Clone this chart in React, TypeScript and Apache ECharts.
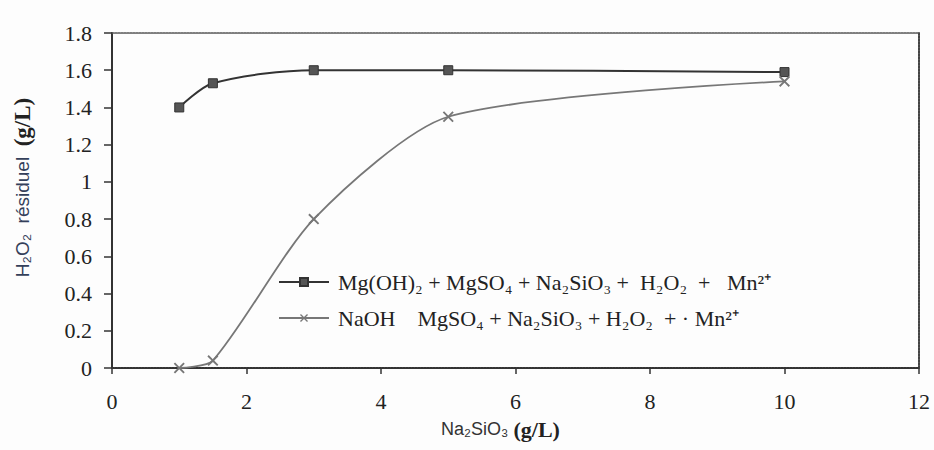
import React, { useEffect, useRef } from "react";
import * as echarts from "echarts";

const xTicks = [0, 2, 4, 6, 8, 10, 12];
const mgX = [1, 1.5, 3, 5, 10];
const mgY = [1.4, 1.53, 1.6, 1.6, 1.59];
const naX = [1, 1.5, 3, 5, 10];
const naY = [0.0, 0.04, 0.8, 1.35, 1.54];
const mgName = "Mg(OH)₂ + MgSO₄ + Na₂SiO₃ +  H₂O₂  +   Mn²⁺";
const naName = "NaOH    MgSO₄ + Na₂SiO₃ + H₂O₂  + · Mn²⁺";

const crossPath =
  "path://M0,1.2L1.2,0L5,3.8L8.8,0L10,1.2L6.2,5L10,8.8L8.8,10L5,6.2L1.2,10L0,8.8L3.8,5Z";

export default function App() {
  const ref = useRef<HTMLDivElement>(null);
  useEffect(() => {
    document.body.style.margin = "0";
    const chart = echarts.init(ref.current!, null, { renderer: "svg" });
    const serif = "Liberation Serif";
    const sans = "Liberation Sans";
    const numRich = { n: { fontFamily: serif, fontSize: 22, color: "#222" } };
    chart.setOption({
      animation: false,
      backgroundColor: "#fdfdfd",
      textStyle: { fontFamily: serif },
      grid: { left: 112, right: 15, top: 33, bottom: 82, show: false, outerBoundsMode: "none", containLabel: false },
      legend: {
        orient: "vertical",
        left: 273,
        top: 266,
        itemWidth: 50,
        itemHeight: 10,
        itemGap: 14,
        textStyle: { fontFamily: serif, fontSize: 22, color: "#222", padding: [0, 0, 0, 4] },
        data: [mgName, naName],
      },
      xAxis: [
        {
          type: "value",
          min: 0,
          max: 12,
          interval: 2,
          axisLine: { show: true, onZero: false, lineStyle: { color: "#333", width: 2, type: [2, 1] } },
          axisTick: { show: true, inside: false, length: 6, lineStyle: { color: "#333", width: 1.5 } },
          axisLabel: {
            fontFamily: serif,
            fontSize: 22,
            color: "#222",
            margin: 22,
            rich: numRich,
            formatter: (v: number) => (xTicks.includes(v) ? "{n|" + v + "}" : ""),
          },
          splitLine: { show: false },
          name: "{s|Na₂SiO₃ }{b|(g/L)}",
          nameLocation: "middle",
          nameGap: 50,
          nameTextStyle: {
            padding: [0, 30, 0, 0],
            rich: {
              s: { fontFamily: sans, fontSize: 18, color: "#333" },
              b: { fontFamily: serif, fontSize: 22, fontWeight: "bold", color: "#222" },
            },
          },
        },
        {
          type: "value",
          position: "top",
          min: 0,
          max: 12,
          axisLine: { show: true, onZero: false, lineStyle: { color: "#555", width: 1.5, type: [2, 1] } },
          axisTick: { show: false },
          axisLabel: { show: false },
          splitLine: { show: false },
        },
      ],
      yAxis: [
        {
          type: "value",
          min: 0,
          max: 1.8,
          interval: 0.2,
          axisLine: { show: true, onZero: false, lineStyle: { color: "#333", width: 2 } },
          axisTick: { show: true, inside: false, length: 8, lineStyle: { color: "#333", width: 1.5 } },
          axisLabel: {
            fontFamily: serif,
            fontSize: 22,
            color: "#222",
            margin: 20,
            rich: numRich,
            formatter: (v: number) => "{n|" + String(Math.round(v * 10) / 10) + "}",
          },
          splitLine: { show: false },
          name: "{s|H₂O₂  résiduel  }{b|(g/L)}",
          nameLocation: "middle",
          nameRotate: 90,
          nameGap: 78,
          nameTextStyle: {
            padding: [0, 0, 0, 26],
            rich: {
              s: { fontFamily: sans, fontSize: 19, color: "#34405a" },
              b: { fontFamily: serif, fontSize: 23, fontWeight: "bold", color: "#222" },
            },
          },
        },
        {
          type: "value",
          position: "right",
          min: 0,
          max: 1.8,
          interval: 0.2,
          axisLine: { show: true, onZero: false, lineStyle: { color: "#444", width: 2, type: [2, 1] } },
          axisTick: { show: false },
          axisLabel: { show: false },
          splitLine: { show: false },
        },
      ],
      series: [
        {
          name: mgName,
          type: "line",
          smooth: 0.3,
          data: mgX.map((x, i) => [x, mgY[i]]),
          symbol: "rect",
          symbolSize: 9,
          itemStyle: { color: "#555", borderColor: "#333", borderWidth: 1 },
          lineStyle: { color: "#333", width: 2 },
        },
        {
          name: naName,
          type: "line",
          smooth: 0.25,
          data: naX.map((x, i) => [x, naY[i]]),
          symbol: crossPath,
          symbolSize: 11,
          itemStyle: { color: "#777" },
          lineStyle: { color: "#777", width: 1.8 },
        },
      ],
    });
    return () => chart.dispose();
  }, []);
  return <div ref={ref} style={{ width: 934, height: 450 }} />;
}
